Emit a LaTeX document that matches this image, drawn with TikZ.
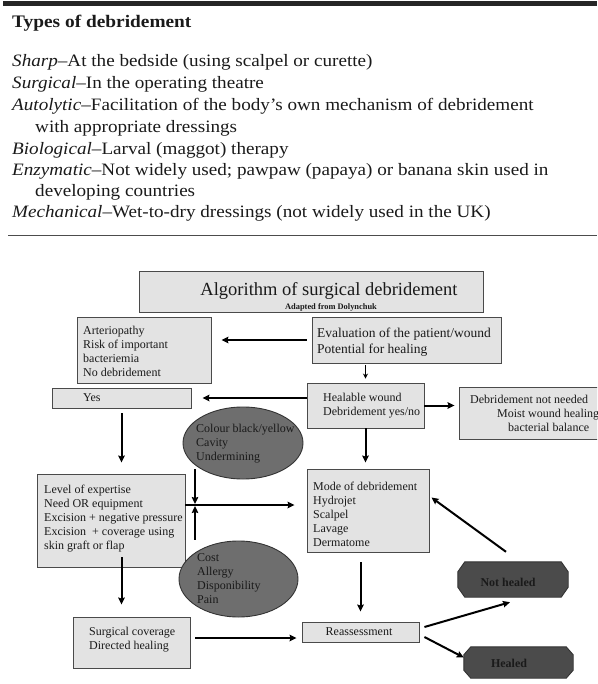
\documentclass[tikz,border=0pt]{standalone}
\usepackage{fontspec}
\setmainfont{Liberation Serif}
\newfontfamily\bodyfam[FakeStretch=1.1]{Liberation Serif}
\usetikzlibrary{arrows.meta,shapes.geometric}
\definecolor{boxgray}{HTML}{E3E3E3}
\definecolor{edgegray}{HTML}{4A4A4A}
\definecolor{ellgray}{HTML}{6E6E6E}
\definecolor{octgray}{HTML}{4B4B4B}
\definecolor{inkc}{HTML}{1A1A1A}
\newcommand\dsize{\fontsize{12}{14}\selectfont}
\newcommand\bsize{\fontsize{17.4}{21}\selectfont}
\begin{document}
\begin{tikzpicture}[x=1pt,y=-1pt,
  box/.style={draw=edgegray, fill=boxgray, line width=0.9pt, inner sep=0pt},
  ell/.style={draw=black!80, fill=ellgray, line width=0.9pt, ellipse, inner sep=0pt},
  octframe/.style={inner sep=0pt},
  octline/.style={draw=black!80, fill=octgray, line width=0.9pt},
  octtext/.style={inner sep=0pt, font=\bfseries\fontsize{12}{14}\selectfont, text=inkc},
  txt/.style={inner sep=0pt, align=left, anchor=west, font=\dsize, text=inkc},
  bodyline/.style={anchor=base west, inner sep=0pt, font=\bodyfam\bsize, text=inkc},
  arr/.style={line width=2pt, draw=black, -{Stealth[length=7pt,width=6.5pt,inset=1pt]}}
]
\useasboundingbox (0,0) rectangle (597,684);
\clip (0,0) rectangle (597,684);

% ---------- top text ----------
\fill[black!85] (3,1) rectangle (597,6);
\node[bodyline, font=\bodyfam\bfseries\fontsize{17.6}{21}\selectfont] (hd) at (12,28) {Types of debridement};
\node[bodyline] (t1) at (12,67) {\textit{Sharp}–At the bedside (using scalpel or curette)};
\node[bodyline] (t2) at (12,89) {\textit{Surgical}–In the operating theatre};
\node[bodyline] (t3) at (12,111) {\textit{Autolytic}–Facilitation of the body’s own mechanism of debridement};
\node[bodyline] (t4) at (35,133) {with appropriate dressings};
\node[bodyline] (t5) at (12,155) {\textit{Biological}–Larval (maggot) therapy};
\node[bodyline] (t6) at (12,176) {\textit{Enzymatic}–Not widely used; pawpaw (papaya) or banana skin used in};
\node[bodyline] (t7) at (35,197) {developing countries};
\node[bodyline] (t8) at (12,218) {\textit{Mechanical}–Wet-to-dry dressings (not widely used in the UK)};
\draw[black!70, line width=0.9pt] (8,235) -- (597,235);

% ---------- boxes ----------
\node[box, minimum width=344pt, minimum height=41pt] (title) at (311,291.5) {};
\node[anchor=base, inner sep=0pt, font=\fontsize{18.5}{20}\selectfont, text=inkc] (title-a) at (329,295) {Algorithm of surgical debridement};
\node[anchor=base, inner sep=0pt, font=\bfseries\fontsize{8.4}{10}\selectfont, text=inkc] (title-b) at (331,309) {Adapted from Dolynchuk};

\node[box, minimum width=134pt, minimum height=66pt] (arter) at (144,350) {};
\node[txt] (arter-t) at (83,351) {Arteriopathy\\Risk of important\\bacteriemia\\No debridement};

\node[box, minimum width=189pt, minimum height=46pt] (eval) at (406.5,340) {};
\node[txt, font=\fontsize{13.5}{16}\selectfont] (eval-t) at (317,342) {Evaluation of the patient/wound\\Potential for healing};

\node[box, minimum width=139pt, minimum height=20pt] (yes) at (121.5,398) {};
\node[txt] (yes-t) at (83,398) {Yes};

\node[box, minimum width=117pt, minimum height=45pt] (heal) at (365.5,405.5) {};
\node[txt] (heal-t) at (323,406) {Healable wound\\Debridement yes/no};

\node[box, minimum width=166pt, minimum height=52pt] (nn) at (542,413) {};
\node[txt] (nn-t) at (470,413.5) {Debridement not needed\\\hspace*{27pt}Moist wound healing\\\hspace*{38pt}bacterial balance};

\node[box, minimum width=122pt, minimum height=83pt] (mode) at (368,510.5) {};
\node[txt] (mode-t) at (313,514) {Mode of debridement\\Hydrojet\\Scalpel\\Lavage\\Dermatome};

\node[box, minimum width=148pt, minimum height=93pt] (lvl) at (111,520.5) {};
\node[txt] (lvl-t) at (44,519) {Level of expertise\\Need OR equipment\\Excision + negative pressure\\Excision \ + coverage using\\skin graft or flap};

\node[box, minimum width=117pt, minimum height=51pt] (surg) at (131.5,642.5) {};
\node[txt] (surg-t) at (89,640) {Surgical coverage\\Directed healing};

\node[box, minimum width=117pt, minimum height=20pt] (reas) at (360.5,632) {};
\node[inner sep=0pt, font=\dsize, text=inkc] (reas-t) at (359,632) {Reassessment};

% ---------- ellipses ----------
\node[ell, minimum width=120pt, minimum height=72pt] (e1) at (243,443) {};
\node[txt] (e1-t) at (196,444) {Colour black/yellow\\Cavity\\Undermining};
\node[ell, minimum width=119pt, minimum height=76pt] (e2) at (238.5,579) {};
\node[txt] (e2-t) at (197,578.5) {Cost\\Allergy\\Disponibility\\Pain};

% ---------- octagons ----------
\node[octframe, minimum width=110pt, minimum height=35pt] (nh) at (513,579.5) {};
\filldraw[octline] ([xshift=7pt]nh.north west) -- ([xshift=-7pt]nh.north east)
  -- ([yshift=-10pt]nh.north east) -- ([yshift=10pt]nh.south east)
  -- ([xshift=-7pt]nh.south east) -- ([xshift=7pt]nh.south west)
  -- ([yshift=10pt]nh.south west) -- ([yshift=-10pt]nh.north west) -- cycle;
\node[octtext] (nh-t) at (508,582) {Not healed};
\node[octframe, minimum width=109pt, minimum height=31pt] (hl) at (518.5,662.5) {};
\filldraw[octline] ([xshift=7pt]hl.north west) -- ([xshift=-7pt]hl.north east)
  -- ([yshift=-8pt]hl.north east) -- ([yshift=8pt]hl.south east)
  -- ([xshift=-7pt]hl.south east) -- ([xshift=7pt]hl.south west)
  -- ([yshift=8pt]hl.south west) -- ([yshift=-8pt]hl.north west) -- cycle;
\node[octtext] (hl-t) at (509,663) {Healed};

% ---------- connectors ----------
\coordinate (j) at (195,505);
\draw[arr, shorten <=5pt, shorten >=10pt] (eval.west) -- (eval.west -| arter.east);
\draw[arr, shorten >=11pt] (heal.west |- yes.east) -- (yes.east);
\draw[arr, shorten >=4pt] (heal.east) -- (heal.east -| nn.west);
\draw[arr, line width=1.6pt, -{Stealth[length=5pt,width=5pt]}, shorten <=2pt, shorten >=4pt] (heal.north |- eval.south) -- (heal.north);
\draw[arr, shorten >=6pt] (heal.south) -- (heal.south |- mode.north);
\draw[arr, shorten <=10pt, shorten >=10pt] (reas.north |- mode.south) -- (reas.north);
\draw[arr, shorten <=5pt, shorten >=5pt] ([yshift=-6pt]reas.west -| surg.east) -- ([yshift=-6pt]reas.west);
\draw[arr, shorten >=12pt] ([yshift=5.5pt]mode.west -| lvl.east) -- ([yshift=5.5pt]mode.west);
\draw[arr, shorten <=5pt, shorten >=11pt] (yes.south) -- (yes.south |- lvl.north);
\draw[arr, shorten >=12pt] ([yshift=10pt]lvl.south -| yes.south) -- (surg.north -| yes.south);
\draw[arr, shorten >=1pt] ([yshift=10pt]e1.south -| j) -- (j);
\draw[arr, shorten >=1pt] ([yshift=1pt]e2.north -| j) -- (j);
\draw[arr] ([xshift=5pt,yshift=5pt]reas.east) -- ([xshift=-3pt,yshift=-5pt]nh.south);
\draw[arr] ([xshift=5pt,yshift=-5pt]reas.east) -- ([yshift=5pt]hl.west);
\draw[arr] ([xshift=-7pt,yshift=10pt]nh.north) -- ([xshift=2pt,yshift=13pt]mode.east);
\end{tikzpicture}
\end{document}
